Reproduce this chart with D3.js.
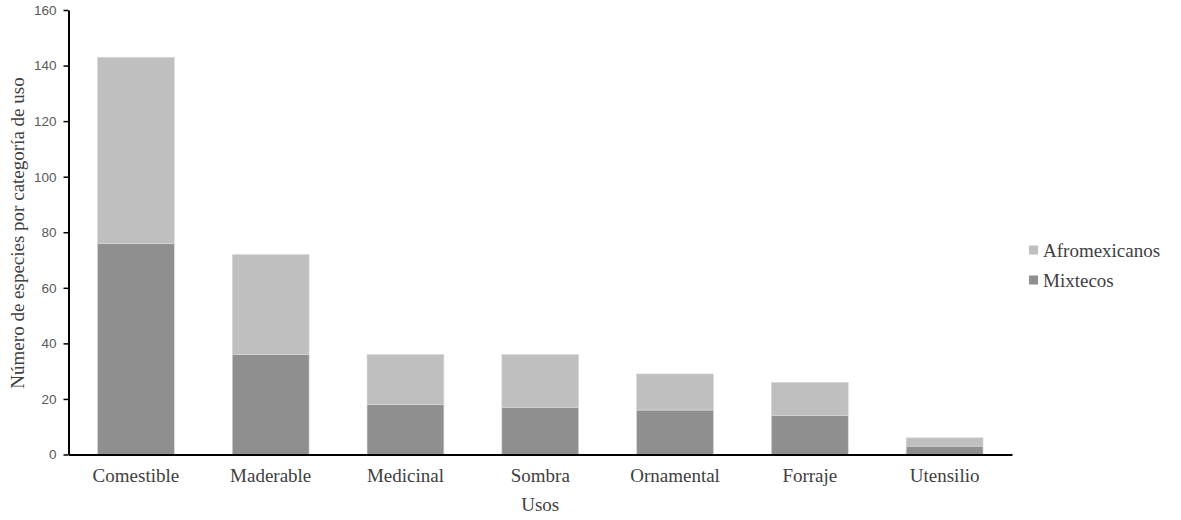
<!DOCTYPE html>
<html><head><meta charset="utf-8">
<script src="https://cdn.jsdelivr.net/npm/d3@7"></script>
<style>body{margin:0;background:#fff}
.serif{font-family:"Liberation Serif","DejaVu Serif",serif;}
.sans{font-family:"Liberation Sans","DejaVu Sans",sans-serif;}
</style>
</head><body>
<svg id="c" width="1181" height="520"></svg>
<script>
const categories = ["Comestible","Maderable","Medicinal","Sombra","Ornamental","Forraje","Utensilio"];
const mixtecos = [76,36,18,17,16,14,3];
const afromexicanos = [67,36,18,19,13,12,3];
const yTicks = [0,20,40,60,80,100,120,140,160];
const seriesNames = ["Mixtecos","Afromexicanos"];
const colors = {"Mixtecos":"#8f8f8f","Afromexicanos":"#bfbfbf"};

const svg = d3.select("#c");
const mLeft = 68.5, mRight = 1012, mTop = 10, mBottom = 454.5;
const x = d3.scaleBand().domain(categories).range([mLeft,mRight]).paddingInner(0.43).paddingOuter(0.215);
const y = d3.scaleLinear().domain([0,160]).range([mBottom,mTop]);

const rows = categories.map((c,i)=>({cat:c, Mixtecos:mixtecos[i], Afromexicanos:afromexicanos[i]}));
const stacked = d3.stack().keys(seriesNames)(rows);

svg.append("g").selectAll("g").data(stacked).join("g")
  .attr("fill", d=>colors[d.key])
  .selectAll("rect").data(d=>d).join("rect")
  .attr("x", d=>x(d.data.cat))
  .attr("width", x.bandwidth())
  .attr("y", d=>y(d[1]))
  .attr("height", d=>y(d[0])-y(d[1]))
  .attr("stroke","#d9d9d9").attr("stroke-width",0.6);

// y axis
const ya = svg.append("g").attr("transform",`translate(${mLeft},0)`)
  .call(d3.axisLeft(y).tickValues(yTicks).tickSize(5).tickPadding(7).tickSizeOuter(0));
ya.attr("font-family",null);
ya.select(".domain").attr("stroke","#000").attr("stroke-width",2);
ya.selectAll(".tick line").attr("stroke","#000").attr("stroke-width",1.5);
ya.selectAll(".tick text").attr("class","sans")
  .attr("font-size",13.5).attr("fill","#595959");

// x axis
const xa = svg.append("g").attr("transform",`translate(0,${mBottom})`)
  .call(d3.axisBottom(x).tickSize(0).tickPadding(14).tickSizeOuter(0));
xa.attr("font-family",null);
xa.select(".domain").attr("stroke","#000").attr("stroke-width",2);
xa.selectAll(".tick text").attr("class","serif")
  .attr("font-size",19).attr("fill","#404040");

// axis titles
svg.append("text").attr("class","serif").attr("x",(mLeft+mRight)/2).attr("y",511).attr("text-anchor","middle")
  .attr("font-size",19).attr("fill","#404040")
  .text("Usos");
svg.append("text").attr("class","serif").attr("transform","translate(24,233) rotate(-90)").attr("text-anchor","middle")
  .attr("font-size",19).attr("fill","#404040")
  .text("Número de especies por categoría de uso");

// legend
const legendOrder = ["Afromexicanos","Mixtecos"];
const lg = svg.append("g").selectAll("g").data(legendOrder).join("g")
  .attr("transform",(d,i)=>`translate(1029,${250+i*30})`);
lg.append("rect").attr("x",0).attr("y",-4.5).attr("width",9).attr("height",9).attr("fill",d=>colors[d]);
lg.append("text").attr("class","serif").attr("x",14).attr("y",0).attr("dy","0.35em")
  .attr("font-size",19).attr("fill","#404040")
  .text(d=>d);
</script>
</body></html>
